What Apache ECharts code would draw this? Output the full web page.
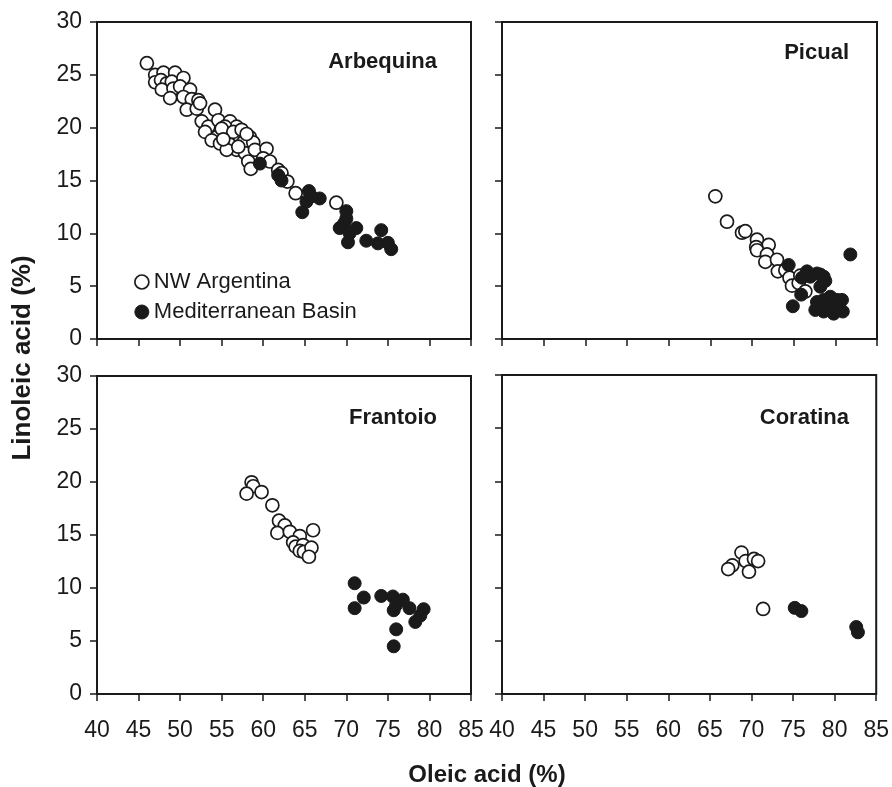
<!DOCTYPE html>
<html>
<head>
<meta charset="utf-8">
<script src="https://cdn.jsdelivr.net/npm/echarts@6/dist/echarts.min.js"></script>
<style>
  html, body { margin: 0; padding: 0; background: #fff; }
  #chart { width: 892px; height: 787px; }
</style>
</head>
<body>
<div id="chart"></div>
<script>
// panels, in order: top-left, top-right, bottom-left, bottom-right
var cultivars = ["Arbequina", "Picual", "Frantoio", "Coratina"];
var xTicks = [40, 85, 5]; // min, max, step (Oleic acid %)
var yTicks = [0, 30, 5];  // min, max, step (Linoleic acid %)

// [oleic, linoleic]
var arbequinaNW = [
  [46.0, 26.1], [47.0, 25.0], [48.0, 25.2], [49.4, 25.2], [47.0, 24.3], [47.7, 24.5],
  [48.4, 24.2], [49.0, 24.35], [50.4, 24.7], [47.8, 23.6], [49.2, 23.7], [50.0, 23.9],
  [51.2, 23.6], [48.8, 22.8], [50.4, 22.9], [51.4, 22.7], [52.2, 22.6], [50.8, 21.7],
  [52.0, 21.8], [52.4, 22.3], [54.2, 21.7], [52.6, 20.6], [53.4, 20.1], [53.0, 19.6],
  [54.6, 20.7], [56.0, 20.6], [56.8, 20.1], [55.4, 20.1], [55.6, 19.3], [54.4, 19.1],
  [53.8, 18.8], [54.8, 18.5], [56.0, 18.4], [57.2, 19.1], [58.4, 19.1], [57.6, 18.6],
  [58.8, 18.6], [56.8, 17.9], [55.6, 17.9], [57.8, 17.6], [59.0, 17.9], [60.4, 18.0],
  [58.2, 16.8], [60.0, 17.1], [60.8, 16.8], [61.8, 16.0], [58.5, 16.1], [62.2, 15.7],
  [62.9, 14.9], [63.9, 13.8], [68.8, 12.9], [55.0, 19.9], [56.4, 19.6], [57.4, 19.8],
  [58.0, 19.4], [55.2, 18.9], [57.0, 18.2]
];
var arbequinaMed = [
  [59.6, 16.6], [61.8, 15.5], [62.2, 15.0], [65.5, 14.0], [66.8, 13.3], [65.2, 13.0],
  [64.7, 12.0], [70.0, 12.1], [70.0, 11.4], [69.7, 10.9], [69.2, 10.5], [71.2, 10.5],
  [70.4, 10.0], [70.2, 9.15], [72.4, 9.3], [74.2, 10.3], [73.8, 9.05], [75.0, 9.1],
  [75.4, 8.5], [65.8, 13.5]
];
var picualNW = [
  [65.6, 13.5], [67.0, 11.1], [68.8, 10.06], [69.2, 10.2], [70.6, 9.4], [72.0, 8.9],
  [70.5, 8.7], [70.6, 8.4], [71.8, 8.0], [71.6, 7.3], [73.0, 7.5], [73.1, 6.4],
  [74.0, 6.5], [74.5, 5.8], [74.8, 5.05], [75.6, 5.3], [76.4, 4.5], [75.8, 6.0]
];
var picualMed = [
  [74.4, 7.0], [81.8, 8.0], [74.9, 3.1], [75.9, 4.2], [76.6, 6.4], [76.0, 5.8],
  [77.8, 6.2], [78.2, 6.1], [78.6, 5.9], [78.2, 4.95], [77.0, 5.9], [78.8, 5.5],
  [77.8, 3.5], [78.6, 3.7], [79.4, 4.0], [80.2, 3.7], [80.8, 3.7], [77.6, 2.75],
  [78.6, 2.6], [79.8, 2.4], [80.9, 2.6], [79.0, 3.0], [80.2, 2.9], [78.6, 3.2]
];
var frantoioNW = [
  [58.6, 19.97], [58.8, 19.6], [58.0, 18.9], [59.8, 19.05], [61.1, 17.8], [61.9, 16.35],
  [62.6, 15.9], [61.7, 15.2], [63.2, 15.3], [64.4, 14.9], [63.6, 14.3], [63.9, 13.9],
  [64.8, 14.05], [64.4, 13.5], [64.9, 13.4], [65.8, 13.8], [65.5, 12.95], [66.0, 15.45]
];
var frantoioMed = [
  [71.0, 10.45], [72.1, 9.1], [71.0, 8.1], [74.2, 9.25], [75.6, 9.2], [76.8, 8.9],
  [75.7, 7.9], [77.6, 8.1], [79.3, 8.0], [78.9, 7.4], [78.3, 6.8], [76.0, 6.1],
  [75.7, 4.5], [76.0, 8.4]
];
var coratinaNW = [
  [68.8, 13.3], [67.7, 12.1], [67.2, 11.75], [69.3, 12.5], [70.3, 12.7], [70.8, 12.5],
  [69.7, 11.5], [71.4, 8.0]
];
var coratinaMed = [
  [75.2, 8.1], [76.0, 7.8], [82.6, 6.3], [82.8, 5.8]
];

var nwData = [arbequinaNW, picualNW, frantoioNW, coratinaNW];
var medData = [arbequinaMed, picualMed, frantoioMed, coratinaMed];

var ink = "#1a1a1a";
var grids = [
  { left: 97, top: 22, width: 374, height: 317 },
  { left: 502, top: 22, width: 375, height: 317 },
  { left: 97, top: 376, width: 374, height: 318 },
  { left: 502, top: 375, width: 376, height: 319 }
];
// where each panel's name sits (right edge, middle)
var namePos = [[437, 62], [849, 53], [437, 418], [849, 418]];

var openStyle = { color: "#fff", borderColor: ink, borderWidth: 1.7, opacity: 1 };
var fillStyle = { color: ink, borderColor: ink, borderWidth: 1, opacity: 1 };

var xAxes = [], yAxes = [], series = [], texts = [];
for (var i = 0; i < 4; i++) {
  grids[i].show = true;
  grids[i].borderColor = ink;
  grids[i].borderWidth = 2;
  xAxes.push({
    type: "value", gridIndex: i,
    min: xTicks[0], max: xTicks[1], interval: xTicks[2],
    axisLine: { show: true, onZero: false, lineStyle: { color: ink, width: 2 } },
    axisTick: { show: true, inside: false, length: 7, lineStyle: { color: ink, width: 1.5 } },
    axisLabel: { show: i >= 2, fontSize: 23, color: ink, margin: 25, fontFamily: "Liberation Sans" },
    splitLine: { show: false }
  });
  yAxes.push({
    type: "value", gridIndex: i,
    min: yTicks[0], max: yTicks[1], interval: yTicks[2],
    axisLine: { show: true, onZero: false, lineStyle: { color: ink, width: 2 } },
    axisTick: { show: true, inside: false, length: 7, lineStyle: { color: ink, width: 1.5 } },
    axisLabel: { show: i % 2 == 0, fontSize: 23, color: ink, margin: 15, fontFamily: "Liberation Sans" },
    splitLine: { show: false }
  });
  series.push({
    name: "NW Argentina", type: "scatter", xAxisIndex: i, yAxisIndex: i,
    symbol: "circle", symbolSize: 13, itemStyle: openStyle, data: nwData[i]
  });
  series.push({
    name: "Mediterranean Basin", type: "scatter", xAxisIndex: i, yAxisIndex: i,
    symbol: "circle", symbolSize: 13, itemStyle: fillStyle, data: medData[i]
  });
  texts.push({
    type: "text", x: namePos[i][0], y: namePos[i][1],
    style: { text: cultivars[i], fill: ink, font: "bold 22px 'Liberation Sans'", align: "right", verticalAlign: "middle" }
  });
}

// axis titles
texts.push({
  type: "text", x: 487, y: 775,
  style: { text: "Oleic acid (%)", fill: ink, font: "bold 24px 'Liberation Sans'", align: "center", verticalAlign: "middle" }
});
texts.push({
  type: "text", x: 23, y: 358, rotation: Math.PI / 2,
  style: { text: "Linoleic acid (%)", fill: ink, font: "bold 26px 'Liberation Sans'", align: "center", verticalAlign: "middle" }
});

var myChart = echarts.init(document.getElementById("chart"));
var option = {
  animation: false,
  backgroundColor: "#fff",
  grid: grids,
  xAxis: xAxes,
  yAxis: yAxes,
  legend: {
    data: [
      { name: "NW Argentina", icon: "circle", itemStyle: openStyle },
      { name: "Mediterranean Basin", icon: "circle", itemStyle: fillStyle }
    ],
    orient: "vertical",
    left: 129, top: 266,
    itemWidth: 14, itemHeight: 14, itemGap: 8,
    textStyle: { fontSize: 22, color: ink, fontFamily: "Liberation Sans" }
  },
  graphic: texts,
  series: series
};
myChart.setOption(option);
</script>
</body>
</html>
